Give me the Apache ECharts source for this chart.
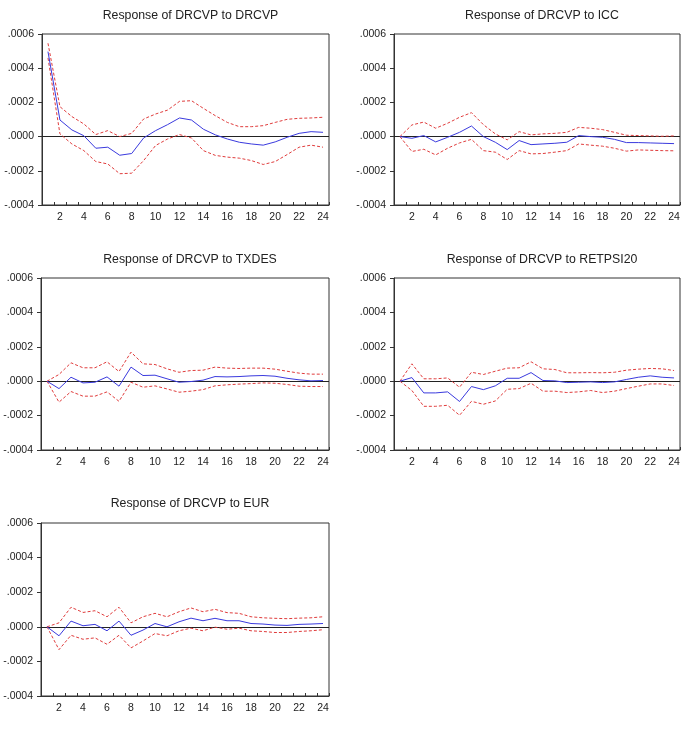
<!DOCTYPE html>
<html>
<head>
<meta charset="utf-8">
<script src="https://cdn.jsdelivr.net/npm/echarts@6/dist/echarts.min.js"></script>
<style>
html,body{margin:0;padding:0;background:#fff;}
#chart{width:688px;height:733px;}
</style>
</head>
<body>
<div id="chart"></div>
<script>
const periods = ["1","2","3","4","5","6","7","8","9","10","11","12","13","14","15","16","17","18","19","20","21","22","23","24"];
const yTicks = [-0.0004, -0.0002, 0.0000, 0.0002, 0.0004, 0.0006];

const titles = ["Response of DRCVP to DRCVP","Response of DRCVP to ICC","Response of DRCVP to TXDES","Response of DRCVP to RETPSI20","Response of DRCVP to EUR"];

const respDRCVP  = [0.000497,0.000097,0.000039,0.000005,-0.000068,-0.000062,-0.000109,-0.000099,-0.000008,0.000035,0.000070,0.000109,0.000097,0.000043,0.000010,-0.000014,-0.000033,-0.000043,-0.000050,-0.000031,-0.000004,0.000019,0.000029,0.000025];
const upperDRCVP = [0.000546,0.000175,0.000117,0.000074,0.000012,0.000035,0.000000,0.000019,0.000103,0.000132,0.000155,0.000206,0.000210,0.000165,0.000122,0.000083,0.000058,0.000058,0.000064,0.000083,0.000101,0.000107,0.000109,0.000113];
const lowerDRCVP = [0.000460,0.000016,-0.000043,-0.000082,-0.000146,-0.000160,-0.000217,-0.000214,-0.000140,-0.000052,-0.000014,0.000012,-0.000008,-0.000082,-0.000110,-0.000120,-0.000126,-0.000140,-0.000163,-0.000146,-0.000105,-0.000062,-0.000050,-0.000062];

const respICC  = [0,-0.000010,0.000006,-0.000031,-0.000004,0.000025,0.000062,0.000000,-0.000033,-0.000076,-0.000023,-0.000047,-0.000043,-0.000039,-0.000033,0.000006,0.000000,-0.000004,-0.000016,-0.000035,-0.000035,-0.000037,-0.000039,-0.000041];
const upperICC = [0,0.000068,0.000085,0.000049,0.000078,0.000113,0.000140,0.000070,0.000016,-0.000019,0.000029,0.000010,0.000016,0.000019,0.000025,0.000054,0.000049,0.000041,0.000025,0.000008,0.000006,0.000004,0.000002,0.000004];
const lowerICC = [0,-0.000087,-0.000074,-0.000107,-0.000068,-0.000037,-0.000016,-0.000082,-0.000091,-0.000134,-0.000082,-0.000101,-0.000099,-0.000091,-0.000082,-0.000043,-0.000050,-0.000056,-0.000068,-0.000085,-0.000078,-0.000080,-0.000082,-0.000083];

const respTXDES  = [0,-0.000043,0.000023,-0.000010,-0.000006,0.000025,-0.000029,0.000082,0.000033,0.000035,0.000014,-0.000006,-0.000002,0.000006,0.000027,0.000025,0.000027,0.000031,0.000033,0.000029,0.000017,0.000008,0.000002,0.000004];
const upperTXDES = [0,0.000039,0.000107,0.000078,0.000078,0.000113,0.000056,0.000169,0.000101,0.000097,0.000072,0.000052,0.000062,0.000064,0.000082,0.000076,0.000074,0.000076,0.000076,0.000070,0.000058,0.000047,0.000041,0.000041];
const lowerTXDES = [0,-0.000122,-0.000060,-0.000087,-0.000087,-0.000062,-0.000117,-0.000006,-0.000035,-0.000027,-0.000045,-0.000064,-0.000058,-0.000049,-0.000027,-0.000021,-0.000017,-0.000014,-0.000010,-0.000012,-0.000019,-0.000029,-0.000031,-0.000031];

const respRETPSI20  = [0,0.000021,-0.000068,-0.000068,-0.000062,-0.000118,-0.000031,-0.000049,-0.000027,0.000017,0.000017,0.000050,0.000004,0.000002,-0.000008,-0.000006,-0.000004,-0.000008,-0.000004,0.000010,0.000023,0.000031,0.000023,0.000019];
const upperRETPSI20 = [0,0.000101,0.000014,0.000014,0.000019,-0.000035,0.000052,0.000039,0.000058,0.000076,0.000078,0.000113,0.000072,0.000068,0.000049,0.000049,0.000050,0.000049,0.000052,0.000064,0.000070,0.000074,0.000072,0.000062];
const lowerRETPSI20 = [0,-0.000054,-0.000146,-0.000146,-0.000140,-0.000198,-0.000117,-0.000134,-0.000115,-0.000047,-0.000043,-0.000012,-0.000058,-0.000058,-0.000066,-0.000062,-0.000054,-0.000066,-0.000058,-0.000043,-0.000029,-0.000016,-0.000016,-0.000025];

const respEUR  = [0,-0.000052,0.000033,0.000006,0.000014,-0.000023,0.000033,-0.000049,-0.000019,0.000019,0.000000,0.000029,0.000050,0.000035,0.000049,0.000035,0.000035,0.000019,0.000016,0.000010,0.000008,0.000014,0.000016,0.000019];
const upperEUR = [0,0.000023,0.000113,0.000083,0.000093,0.000058,0.000113,0.000023,0.000058,0.000078,0.000058,0.000087,0.000109,0.000087,0.000101,0.000082,0.000078,0.000058,0.000052,0.000049,0.000047,0.000050,0.000052,0.000058];
const lowerEUR = [0,-0.000132,-0.000049,-0.000072,-0.000064,-0.000101,-0.000049,-0.000122,-0.000082,-0.000039,-0.000052,-0.000023,-0.000008,-0.000023,-0.000002,-0.000014,-0.000008,-0.000023,-0.000027,-0.000033,-0.000033,-0.000027,-0.000023,-0.000017];

const panels = [
  {title: titles[0], resp: respDRCVP, upper: upperDRCVP, lower: lowerDRCVP},
  {title: titles[1], resp: respICC, upper: upperICC, lower: lowerICC},
  {title: titles[2], resp: respTXDES, upper: upperTXDES, lower: lowerTXDES},
  {title: titles[3], resp: respRETPSI20, upper: upperRETPSI20, lower: lowerRETPSI20},
  {title: titles[4], resp: respEUR, upper: upperEUR, lower: lowerEUR}
];

const layout = [
  {left: 42, top: 34, width: 287, height: 171, titleTop: 5},
  {left: 394, top: 34, width: 286, height: 171, titleTop: 5},
  {left: 41, top: 278, width: 288, height: 172, titleTop: 249},
  {left: 394, top: 278, width: 286, height: 172, titleTop: 249},
  {left: 41, top: 523, width: 288, height: 173, titleTop: 493}
];

const FONT = '"Liberation Sans", Arial, sans-serif';
const fmt = v => {
  if (Math.abs(v) < 1e-12) return '.0000';
  const s = v.toFixed(4);
  return s.replace('0.', '.');
};

const option = {
  animation: false,
  backgroundColor: '#ffffff',
  title: [], grid: [], xAxis: [], yAxis: [], series: []
};

panels.forEach((p, i) => {
  const L = layout[i];
  option.title.push({
    text: p.title,
    left: L.left + L.width / 2,
    top: L.titleTop,
    textAlign: 'center',
    textStyle: {fontFamily: FONT, fontSize: 12.3, fontWeight: 'normal', color: '#222'}
  });
  option.grid.push({
    left: L.left, top: L.top, width: L.width, height: L.height,
    show: true, borderColor: '#333', borderWidth: 1, backgroundColor: 'transparent'
  });
  option.xAxis.push({
    type: 'category', gridIndex: i, data: periods, boundaryGap: true,
    axisLine: {show: true, onZero: false, lineStyle: {color: '#333', width: 1}},
    axisTick: {show: true, inside: true, length: 3, interval: 0, lineStyle: {color: '#333'}},
    axisLabel: {
      interval: (idx) => idx % 2 === 1,
      fontFamily: FONT, fontSize: 10.5, color: '#222', margin: 7
    },
    splitLine: {show: false}
  });
  option.yAxis.push({
    type: 'value', gridIndex: i,
    min: yTicks[0], max: yTicks[yTicks.length - 1], interval: 0.0002,
    axisLine: {show: true, lineStyle: {color: '#333', width: 1}},
    axisTick: {show: true, inside: false, length: 4, lineStyle: {color: '#333'}},
    axisLabel: {formatter: fmt, fontFamily: FONT, fontSize: 10.5, color: '#222', margin: 8},
    splitLine: {show: false}
  });
  option.series.push({
    type: 'line', xAxisIndex: i, yAxisIndex: i, data: p.upper, symbol: 'none',
    lineStyle: {color: '#e03c3c', width: 1, type: [3, 2]}, z: 3, silent: true
  });
  option.series.push({
    type: 'line', xAxisIndex: i, yAxisIndex: i, data: p.lower, symbol: 'none',
    lineStyle: {color: '#e03c3c', width: 1, type: [3, 2]}, z: 3, silent: true
  });
  option.series.push({
    type: 'line', xAxisIndex: i, yAxisIndex: i, data: p.resp, symbol: 'none',
    lineStyle: {color: '#3a3ade', width: 1}, z: 4, silent: true,
    markLine: {
      silent: true, symbol: 'none', label: {show: false},
      lineStyle: {color: '#222', width: 1, type: 'solid'},
      data: [{yAxis: 0}], z: 2
    }
  });
});

const chart = echarts.init(document.getElementById('chart'), null, {renderer: 'canvas'});
chart.setOption(option);
</script>
</body>
</html>
